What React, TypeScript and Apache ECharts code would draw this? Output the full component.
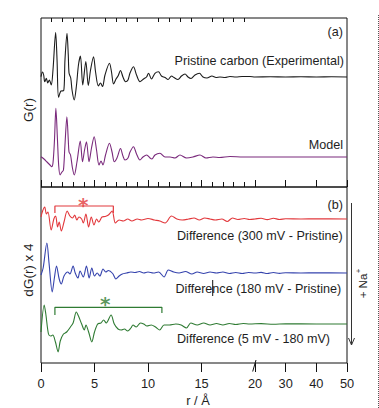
import React, { useEffect, useRef } from "react";
import * as echarts from "echarts";

const FONT = "'Liberation Sans', Arial, Helvetica, sans-serif";

// Broken r axis: 0–20 Å linear, 20–50 Å compressed
const BREAK_SCALE = 8.6 / 30;
const toU = (r: number) => (r <= 20 ? r : 20 + (r - 20) * BREAK_SCALE);
const fromU = (u: number) => (u <= 20.0001 ? u : 20 + (u - 20) / BREAK_SCALE);

const majorTicksR = [0, 5, 10, 15, 20, 30, 40, 50];
const minorTicksR = [1, 2, 3, 4, 6, 7, 8, 9, 11, 12, 13, 14, 16, 17, 18, 19];

// [r (Å), G(r)] – panel (a)
const experimental = [
  [0, 0.3], [0.14, 5], [0.25, 2], [0.35, -4.7], [0.5, -1.3], [0.63, -6], [0.78, -3], [0.96, -8], [1.12, 7], [1.37, 44.5],
  [1.5, 17], [1.64, -20.3], [1.87, -14], [2.12, -13.7], [2.24, 17], [2.43, 43.7], [2.55, 22], [2.62, 4], [2.78, -1], [2.9, -13],
  [3.1, -23], [3.32, -8], [3.5, 12], [3.69, 21], [3.9, -8], [4.19, 15.5], [4.42, -8.5], [4.63, 7], [4.91, 20.3], [5.1, 5],
  [5.36, -9], [5.56, -6], [5.75, -9.5], [5.98, 2], [6.4, 13.7], [6.59, 5], [6.78, -7], [7.01, -2], [7.2, 1], [7.43, 6.5],
  [7.66, 0], [7.9, -4.7], [8.13, -3], [8.32, 4], [8.64, 10.3], [8.93, 2], [9.25, -4.7], [9.58, -2], [9.86, 0], [10.05, 3.7],
  [10.33, -2], [10.65, 3.7], [10.98, 5.3], [11.26, 1], [11.59, -0.5], [11.87, -2.5], [12.2, 1], [12.43, -0.5], [12.8, -2.5], [13.13, 1],
  [13.46, 3], [13.74, 0], [14.02, -1.5], [14.39, 2], [14.81, 3.7], [15.14, 0], [15.51, -1], [15.98, 1], [16.36, -0.5], [16.73, 0],
  [17.2, -0.5], [17.66, 0.5], [18.22, 0], [18.79, 0.5], [19.53, 0.5], [20, 0], [25, 0.3], [30, 0], [35, 0.3], [40, 0], [45, 0.2], [50, 0],
];

const model = [
  [0, 0.3], [0.28, -2], [0.56, -5], [0.84, -8], [1.0, -9.7], [1.12, -6], [1.26, 17], [1.39, 48.7], [1.54, 17], [1.65, -8],
  [1.78, -18], [1.96, -15], [2.1, -13], [2.24, 12], [2.42, 40.3], [2.55, 17], [2.62, 5], [2.76, 2], [2.94, -11], [3.11, -18],
  [3.36, -5], [3.67, 16], [3.88, -4.7], [4.07, 7], [4.25, 15.3], [4.49, -4.7], [4.72, 9], [4.97, 20.3], [5.19, 7], [5.42, -8],
  [5.61, -4], [5.79, -8], [6.03, 2], [6.4, 13.7], [6.64, 5], [6.85, -4.7], [7.1, -1], [7.43, 8.5], [7.66, 1], [7.85, -3],
  [8.13, -1], [8.32, 5], [8.64, 10.3], [8.93, 3], [9.25, -3], [9.53, 0], [9.88, 2], [10.19, -1], [10.37, -2], [10.65, 2],
  [11.12, 3.7], [11.59, 0], [12.06, 0], [12.52, -1], [12.99, 2], [13.6, -1], [14.2, 0], [14.86, 2], [15.42, -1], [16.07, 0],
  [16.7, -0.5], [17.66, 0.5], [18.88, 0], [20, 0], [50, 0],
];

// [r (Å), dG(r) x 4] – panel (b)
const diff300 = [
  [0, 2], [0.15, 8], [0.35, 12], [0.5, 5], [0.65, 7], [0.95, -11], [1.2, 0], [1.37, 3], [1.55, -8], [1.7, -3],
  [1.9, -12], [2.15, -3], [2.45, 8], [2.7, 3], [2.95, 1], [3.15, 4], [3.35, -1], [3.55, 2], [3.8, 0], [3.95, -4],
  [4.2, 5], [4.45, -8], [4.7, 2], [4.95, -6], [5.2, 0], [5.4, -3], [5.7, 2], [6.0, 2.5], [6.3, 4], [6.65, 8],
  [6.95, -4], [7.3, -1], [7.7, -2], [8.1, 0], [8.5, -2], [9.0, 0], [9.4, -1], [10.0, 0.5], [10.6, -1], [11.1, -2],
  [11.6, -4], [12.2, 3], [12.7, 0], [13.2, -1], [13.8, 0], [14.3, 1], [14.8, -1], [15.3, 1], [15.8, 0], [16.3, -1],
  [16.9, 0], [17.4, -2.5], [17.9, 1], [18.4, -0.5], [19.0, 0.5], [19.5, -0.5], [20, 0], [22, 0.8], [24, -0.6], [26, 0.7],
  [28, -0.5], [30, 0.3], [35, 0], [40, 0.2], [50, 0],
];

const diff180 = [
  [0, -2], [0.2, 5], [0.55, 30], [0.75, 10], [1.05, -19], [1.25, -5], [1.45, 7], [1.7, -6], [1.9, -11], [2.15, -3],
  [2.5, 1], [2.7, -1], [3.0, 7], [3.2, 0], [3.45, -5], [3.65, 2], [3.95, -4], [4.25, 7], [4.5, -5], [4.75, 5],
  [5.0, -3], [5.25, 0], [5.5, -3], [5.8, 4], [6.05, 1], [6.3, 2.5], [6.7, -0.5], [7.0, -6], [7.3, -3], [7.6, -1],
  [8.0, 0], [8.4, 1], [8.8, 0.5], [9.2, 1.5], [9.6, 0], [10.0, 1], [10.5, 0], [11.0, 1], [11.5, -4], [11.9, 3],
  [12.4, 1], [12.9, 0], [13.5, 1.5], [14.1, -1], [14.6, 1], [15.2, -0.5], [15.8, 1], [16.4, 0], [17.0, 1], [17.6, -0.5],
  [18.2, 0.5], [18.8, -0.5], [19.4, 0.5], [20, 0], [22, 0.6], [24, -0.5], [26, 0.5], [28, -0.4], [30, 0.3], [35, 0],
  [40, 0.2], [50, 0],
];

const diff5 = [
  [0, -8], [0.3, 19], [0.45, 10], [0.7, -10], [0.9, -12], [1.1, -11], [1.35, -18], [1.6, -28], [1.8, -17], [2.1, -10],
  [2.4, -8], [2.75, -3], [3.0, 1], [3.3, 12], [3.5, 8], [3.8, 0], [4.05, -6], [4.2, -1], [4.45, -8], [4.75, -18],
  [5.0, -8], [5.3, 0], [5.6, 1], [5.85, 4], [6.1, 1], [6.55, 9], [6.85, 0], [7.2, -5], [7.5, -6], [7.8, -5],
  [8.1, -7], [8.4, -4], [8.6, -1], [8.9, -3], [9.3, 1], [9.6, 0], [9.9, -2], [10.3, -1], [10.7, -3], [11.1, -6],
  [11.5, -1], [12.0, -1], [12.6, 0], [13.1, -1], [13.6, -4], [14.0, 1], [14.6, -1], [15.2, 1], [15.8, -1], [16.4, 0.5],
  [17.0, -1], [17.6, 0.5], [18.2, -0.5], [18.9, 0.5], [19.5, 0], [22, 0.4], [26, -0.3], [30, 0.2], [40, 0], [50, 0],
];

// vertical stacking offsets
const offsetExperimental = 110;
const offsetModel = 30;
const offset300 = 144;
const offset180 = 90;
const offset5 = 39;

// annotation brackets [r, value] and asterisk positions
const bracket300 = [[1.3, 150], [1.3, 157], [6.76, 157], [6.76, 150]];
const bracket5 = [[1.3, 48], [1.3, 55.7], [11.3, 55.7], [11.3, 50]];
const star300 = [3.95, 163];
const star5 = [6.0, 64];

const BLACK = "#1c1c1c";
const PURPLE = "#7a2a7c";
const RED = "#e2383c";
const BLUE = "#3543ad";
const GREEN = "#2f7b33";
const TEXT = "#1e1e1e";

export default function App() {
  const ref = useRef<HTMLDivElement>(null);
  useEffect(() => {
    const chart = echarts.init(ref.current!, null, { renderer: "svg" });
    const majorU = majorTicksR.map(toU);
    const minorU = minorTicksR.map(toU);
    const maxU = toU(50);

    const curve = (name: string, data: number[][], offset: number, color: string, grid: number) => ({
      type: "line",
      name,
      xAxisIndex: grid * 2,
      yAxisIndex: grid,
      data: data.map(([r, g]) => [toU(r), offset + g]),
      symbol: "none",
      smooth: 0.3,
      silent: true,
      lineStyle: { color, width: 1.1 },
      itemStyle: { color },
      z: 3,
    });
    const bracket = (data: number[][], color: string) => ({
      type: "line",
      xAxisIndex: 2,
      yAxisIndex: 1,
      data: data.map(([r, v]) => [toU(r), v]),
      symbol: "none",
      silent: true,
      lineStyle: { color, width: 1.2 },
      z: 4,
    });
    const star = (p: number[], color: string) => ({
      type: "scatter",
      xAxisIndex: 2,
      yAxisIndex: 1,
      data: [[toU(p[0]), p[1]]],
      symbolSize: 1,
      silent: true,
      itemStyle: { color: "rgba(0,0,0,0)" },
      label: {
        show: true,
        position: "inside",
        formatter: "*",
        fontSize: 20,
        fontWeight: "bold",
        fontFamily: "'DejaVu Sans', sans-serif",
        color,
        offset: [0, 5],
      },
      z: 5,
    });

    const axisBase = (grid: number) => ({
      type: "value",
      gridIndex: grid,
      min: 0,
      max: maxU,
      axisLine: { show: false },
      splitLine: { show: false },
    });

    const textEl = (text: string, x: number, y: number, align: string, size = 12.6, extra: any = {}) => ({
      type: "text",
      x,
      y,
      silent: true,
      ...extra,
      style: { text, fill: TEXT, font: `${size}px ${FONT}`, align, verticalAlign: "middle" },
    });

    const option: any = {
      animation: false,
      backgroundColor: "#ffffff",
      grid: [
        { left: 41, top: 18, width: 306, height: 169, show: true, borderColor: "#111", borderWidth: 1, backgroundColor: "transparent" },
        { left: 41, top: 187, width: 306, height: 176, show: true, borderColor: "#111", borderWidth: 1, backgroundColor: "transparent" },
      ],
      xAxis: [
        { ...axisBase(0), axisLabel: { show: false }, axisTick: { show: true, inside: true, length: 7, customValues: majorU, lineStyle: { color: "#111", width: 1 } } },
        { ...axisBase(0), axisLabel: { show: false }, axisTick: { show: true, inside: true, length: 4, customValues: minorU, lineStyle: { color: "#111", width: 1 } } },
        {
          ...axisBase(1),
          axisTick: { show: true, inside: false, length: 9, customValues: majorU, lineStyle: { color: "#111", width: 1 } },
          axisLabel: {
            show: true,
            customValues: majorU,
            showMinLabel: true,
            showMaxLabel: true,
            hideOverlap: false,
            margin: 14,
            fontSize: 12.8,
            fontFamily: FONT,
            color: TEXT,
            formatter: (v: number) => String(Math.round(fromU(v))),
          },
        },
        { ...axisBase(1), axisLabel: { show: false }, axisTick: { show: true, inside: false, length: 5, customValues: minorU, lineStyle: { color: "#111", width: 1 } } },
      ],
      yAxis: [
        { type: "value", gridIndex: 0, min: 0, max: 169, show: false },
        { type: "value", gridIndex: 1, min: 0, max: 176, show: false },
      ],
      series: [
        curve("Pristine carbon (Experimental)", experimental, offsetExperimental, BLACK, 0),
        curve("Model", model, offsetModel, PURPLE, 0),
        curve("Difference (300 mV - Pristine)", diff300, offset300, RED, 1),
        curve("Difference (180 mV - Pristine)", diff180, offset180, BLUE, 1),
        curve("Difference (5 mV - 180 mV)", diff5, offset5, GREEN, 1),
        bracket(bracket300, RED),
        bracket(bracket5, GREEN),
        star(star300, RED),
        star(star5, GREEN),
      ],
      graphic: [
        textEl("(a)", 343, 32, "right"),
        textEl("Pristine carbon (Experimental)", 344, 61, "right"),
        textEl("Model", 343, 144.5, "right"),
        textEl("(b)", 343, 205, "right"),
        textEl("Difference (300 mV - Pristine)", 177, 236, "left"),
        textEl("Difference (180 mV - Pristine)", 175.5, 289, "left"),
        textEl("Difference (5 mV - 180 mV)", 177, 339, "left"),
        textEl("G(r)", 28, 110, "center", 13.5, { rotation: Math.PI / 2 }),
        textEl("dG(r) x 4", 28, 270, "center", 13.5, { rotation: Math.PI / 2 }),
        textEl("r / Å", 198, 400, "center", 12.8),
        textEl("+ Na", 363, 286, "center", 11.5, { rotation: Math.PI / 2 }),
        textEl("+", 358.5, 271, "center", 8, { rotation: Math.PI / 2 }),
        // arrow
        { type: "line", silent: true, shape: { x1: 351.5, y1: 203, x2: 351.5, y2: 345 }, style: { stroke: "#333", lineWidth: 1 } },
        { type: "polyline", silent: true, shape: { points: [[348.5, 338], [351.5, 345], [354.5, 338]] }, style: { stroke: "#333", lineWidth: 1, fill: "none" } },
        // axis break mark
        { type: "line", silent: true, shape: { x1: 252.7, y1: 371.5, x2: 256, y2: 360 }, style: { stroke: "#111", lineWidth: 1 } },
        // stray cursor mark in label
        { type: "line", silent: true, shape: { x1: 212.7, y1: 280, x2: 212.7, y2: 296 }, style: { stroke: "#111", lineWidth: 1 } },
        // dotted frame line on the right
        { type: "line", silent: true, shape: { x1: 378.5, y1: 15, x2: 378.5, y2: 408 }, style: { stroke: "#555", lineWidth: 1, lineDash: [1, 1] } },
      ],
    };
    chart.setOption(option);
    return () => chart.dispose();
  }, []);
  return (
    <div
      ref={ref}
      style={{ position: "absolute", left: 0, top: 0, width: 379, height: 408, background: "#fff" }}
    />
  );
}
